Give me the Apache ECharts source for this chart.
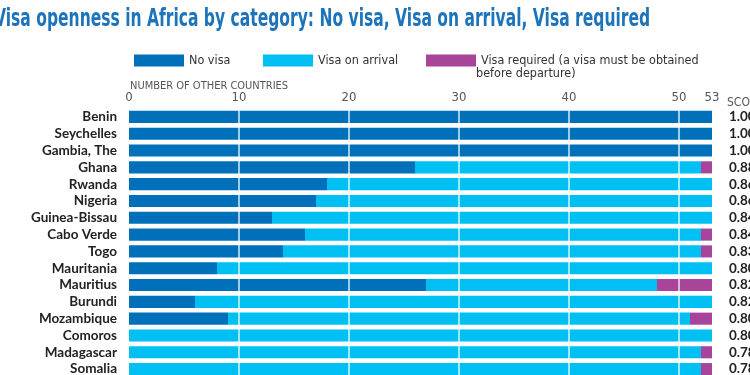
<!DOCTYPE html>
<html>
<head>
<meta charset="utf-8">
<script src="https://cdn.jsdelivr.net/npm/echarts@6/dist/echarts.min.js"></script>
<style>
  html, body { margin: 0; padding: 0; background: #fff; }
  #chart { width: 750px; height: 375px; }
</style>
</head>
<body>
<div id="chart"></div>
<script>
// values (number of other African countries)
const countries = ['Benin', 'Seychelles', 'Gambia, The', 'Ghana', 'Rwanda', 'Nigeria',
    'Guinea-Bissau', 'Cabo Verde', 'Togo', 'Mauritania', 'Mauritius', 'Burundi',
    'Mozambique', 'Comoros', 'Madagascar', 'Somalia'];
const noVisa = [53, 53, 53, 26, 18, 17, 13, 16, 14, 8, 27, 6, 9, 0, 0, 0];
const onArrival = [0, 0, 0, 26, 35, 36, 40, 36, 38, 45, 21, 47, 42, 53, 52, 52];
const required = [0, 0, 0, 1, 0, 0, 0, 1, 1, 0, 5, 0, 2, 0, 1, 1];
const scores = ['1.00', '1.00', '1.00', '0.88', '0.86', '0.86', '0.84', '0.84', '0.83',
    '0.80', '0.82', '0.82', '0.80', '0.80', '0.78', '0.78'];
const gridTicks = [10, 20, 30, 40, 50];

const narrow = '"Liberation Sans Narrow", "DejaVu Sans Condensed", sans-serif';

let chart = echarts.init(document.getElementById('chart'));

function legendAt(name, left) {
    return {
        data: [name],
        left: left,
        top: 49,
        icon: 'rect',
        itemWidth: 50,
        itemHeight: 12,
        selectedMode: false,
        textStyle: { fontFamily: narrow, fontSize: 12.5, color: '#333' }
    };
}

let option = {
    animation: false,
    title: [
        {
            text: 'NUMBER OF OTHER COUNTRIES',
            left: 125, top: 76,
            textStyle: { fontFamily: narrow, fontSize: 11, fontWeight: 'normal', color: '#555' }
        },
        {
            text: 'SCORE',
            left: 722, top: 92,
            textStyle: { fontFamily: narrow, fontSize: 12, fontWeight: 'normal', color: '#555' }
        }
    ],
    graphic: [
        {
            type: 'text', left: -6, top: 8, scaleX: 0.72,
            style: {
                text: 'Visa openness in Africa by category: No visa, Visa on arrival, Visa required',
                font: 'bold 24px ' + narrow, fill: '#1d74bb'
            }
        },
        {
            type: 'text', left: 476, top: 67,
            style: { text: 'before departure)', font: '12.5px ' + narrow, fill: '#333' }
        }
    ],
    legend: [
        legendAt('No visa', 129),
        legendAt('Visa on arrival', 258),
        legendAt('Visa required (a visa must be obtained', 421)
    ],
    grid: { left: 129, right: 38, top: 108.5, height: 269, outerBoundsMode: 'none', containLabel: false },
    xAxis: {
        type: 'value',
        position: 'top',
        min: 0,
        max: 53,
        interval: 10,
        axisLine: { show: false },
        axisTick: { show: false },
        splitLine: { show: false },
        axisLabel: { fontFamily: narrow, fontSize: 13, color: '#555', margin: 4 }
    },
    yAxis: [
        {
            type: 'category',
            data: countries,
            inverse: true,
            axisLine: { show: false },
            axisTick: { show: false },
            axisLabel: { interval: 0, fontFamily: 'Lato', fontWeight: 'bold', fontSize: 13.5, color: '#222', margin: 12 }
        },
        {
            type: 'category',
            data: scores,
            inverse: true,
            position: 'right',
            axisLine: { show: false },
            axisTick: { show: false },
            axisLabel: { interval: 0, fontFamily: 'Lato', fontWeight: 'bold', fontSize: 13.5, color: '#222', margin: 17 }
        }
    ],
    series: [
        {
            name: 'No visa', type: 'bar', stack: 'all', data: noVisa,
            barCategoryGap: '28%', itemStyle: { color: '#0070ba' }
        },
        {
            name: 'Visa on arrival', type: 'bar', stack: 'all', data: onArrival,
            itemStyle: { color: '#00bff3' }
        },
        {
            name: 'Visa required (a visa must be obtained', type: 'bar', stack: 'all', data: required,
            itemStyle: { color: '#a8459b' },
            markLine: {
                silent: true,
                symbol: 'none',
                label: { show: false },
                lineStyle: { color: '#fff', type: 'solid', width: 1.5, opacity: 0.85 },
                data: gridTicks.map(v => ({ xAxis: v }))
            }
        }
    ]
};

chart.setOption(option);
</script>
</body>
</html>
